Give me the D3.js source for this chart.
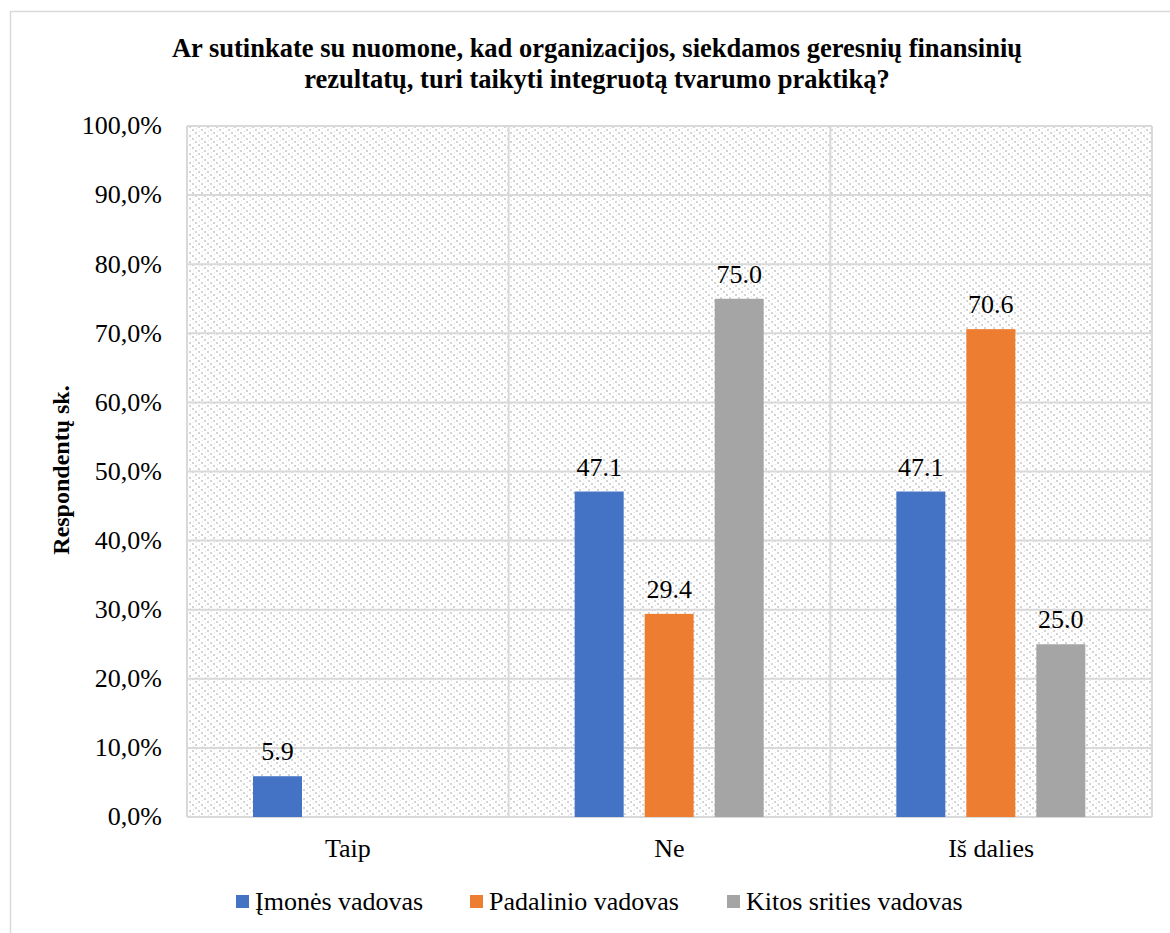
<!DOCTYPE html>
<html>
<head>
<meta charset="utf-8">
<script src="https://cdn.jsdelivr.net/npm/d3@7"></script>
<style>
  html, body { margin: 0; padding: 0; background: #fff; }
  svg { display: block; }
  text { font-family: "Liberation Serif", "Times New Roman", serif; fill: #000; }
</style>
</head>
<body>
<svg id="chart" width="1170" height="933"></svg>
<script>
// Survey answers by respondent role (%)
const categories = ["Taip", "Ne", "Iš dalies"];
const seriesNames = ["Įmonės vadovas", "Padalinio vadovas", "Kitos srities vadovas"];
const imonesVadovas = [5.9, 47.1, 47.1];
const padalinioVadovas = [null, 29.4, 70.6];
const kitosSritiesVadovas = [null, 75.0, 25.0];
const yTicks = [0, 10, 20, 30, 40, 50, 60, 70, 80, 90, 100];
const colors = ["#4472C4", "#ED7D31", "#A5A5A5"];
const titleLines = [
  "Ar sutinkate su nuomone, kad organizacijos, siekdamos geresnių finansinių",
  "rezultatų, turi taikyti integruotą tvarumo praktiką?"
];
const yAxisTitle = "Respondentų sk.";

const seriesValues = [imonesVadovas, padalinioVadovas, kitosSritiesVadovas];

const svg = d3.select("#chart");
const plot = { left: 187, top: 126, right: 1152, bottom: 817 };
const FONT = '"Liberation Serif", "Times New Roman", serif';

// Hatched plot background
const defs = svg.append("defs");
const pat = defs.append("pattern")
  .attr("id", "hatch")
  .attr("patternUnits", "userSpaceOnUse")
  .attr("width", 9).attr("height", 9);
pat.append("rect").attr("width", 9).attr("height", 9).attr("fill", "#fff");
[[0,0],[3,3],[6,6]].forEach(([x, y]) => {
  pat.append("rect").attr("x", x).attr("y", y).attr("width", 2).attr("height", 2).attr("fill", "#d4d4d4");
});
[[1,5],[4,8],[7,2]].forEach(([x, y]) => {
  pat.append("rect").attr("x", x).attr("y", y).attr("width", 1).attr("height", 1).attr("fill", "#e2e2e2");
});

// Outer chart frame
svg.append("rect")
  .attr("x", 10.5).attr("y", 11.5)
  .attr("width", 1180).attr("height", 940)
  .attr("fill", "#fff")
  .attr("stroke", "#d9d9d9").attr("stroke-width", 1.5);

const x0 = d3.scaleBand().domain(categories).range([plot.left, plot.right]).padding(0);
const groupStart = 66, groupWidth = 189;
const x1 = d3.scaleBand().domain(seriesNames.map((d, i) => i))
  .range([groupStart, groupStart + groupWidth]).paddingInner(0.3).paddingOuter(0);
const y = d3.scaleLinear().domain([0, 100]).range([plot.bottom, plot.top]);

svg.append("rect")
  .attr("x", plot.left).attr("y", plot.top)
  .attr("width", plot.right - plot.left).attr("height", plot.bottom - plot.top)
  .attr("fill", "url(#hatch)");

// Horizontal gridlines
svg.append("g").selectAll("line").data(yTicks).join("line")
  .attr("x1", plot.left).attr("x2", plot.right)
  .attr("y1", d => y(d)).attr("y2", d => y(d))
  .attr("stroke", "#d9d9d9").attr("stroke-width", 2);

// Vertical gridlines at category boundaries
const bounds = categories.map(c => x0(c)).concat([plot.right]);
svg.append("g").selectAll("line").data(bounds).join("line")
  .attr("x1", d => d).attr("x2", d => d)
  .attr("y1", plot.top).attr("y2", plot.bottom)
  .attr("stroke", "#d9d9d9").attr("stroke-width", 2);

// Y axis labels
const yAxis = d3.axisLeft(y).tickValues(yTicks).tickSize(0).tickPadding(0)
  .tickFormat(d => d3.format(".1f")(d).replace(".", ",") + "%");
const yg = svg.append("g").attr("transform", `translate(${plot.left - 25},0)`).call(yAxis);
yg.select(".domain").remove();
yg.selectAll("text")
  .style("font-family", FONT).style("font-size", "26px")
  .attr("fill", "#000").attr("dy", "0.3em");

// X axis labels
const xAxis = d3.axisBottom(x0).tickSize(0).tickPadding(0);
const xg = svg.append("g").attr("transform", `translate(0,${plot.bottom})`).call(xAxis);
xg.select(".domain").remove();
xg.selectAll("text")
  .style("font-family", FONT).style("font-size", "26px")
  .attr("fill", "#000").attr("y", 40).attr("dy", null);

// Bars and value labels
const barData = [];
categories.forEach((c, ci) => {
  seriesValues.forEach((vals, si) => {
    if (vals[ci] != null) barData.push({ c, si, v: vals[ci] });
  });
});
svg.append("g").selectAll("rect").data(barData).join("rect")
  .attr("x", d => x0(d.c) + x1(d.si))
  .attr("y", d => y(d.v))
  .attr("width", x1.bandwidth())
  .attr("height", d => y(0) - y(d.v))
  .attr("fill", d => colors[d.si]);

svg.append("g").selectAll("text").data(barData).join("text")
  .attr("x", d => x0(d.c) + x1(d.si) + x1.bandwidth() / 2)
  .attr("y", d => y(d.v) - 16)
  .attr("text-anchor", "middle")
  .style("font-family", FONT).style("font-size", "26px")
  .text(d => d.v.toFixed(1));

// Title
svg.append("g").selectAll("text").data(titleLines).join("text")
  .attr("x", 597).attr("y", (d, i) => 57 + i * 31)
  .attr("text-anchor", "middle")
  .style("font-family", FONT).style("font-size", "26.5px").style("font-weight", "bold")
  .text(d => d);

// Y axis title
svg.append("text")
  .attr("transform", `translate(69,470) rotate(-90)`)
  .attr("text-anchor", "middle")
  .style("font-family", FONT).style("font-size", "24px").style("font-weight", "bold")
  .text(yAxisTitle);

// Legend
const legendX = [236, 470, 727];
const lg = svg.append("g").selectAll("g").data(seriesNames).join("g")
  .attr("transform", (d, i) => `translate(${legendX[i]},901)`);
lg.append("rect").attr("x", 0).attr("y", -6).attr("width", 13).attr("height", 13)
  .attr("fill", (d, i) => colors[i]);
lg.append("text").attr("x", 19).attr("y", 9)
  .style("font-family", FONT).style("font-size", "26px")
  .text(d => d);
</script>
</body>
</html>
